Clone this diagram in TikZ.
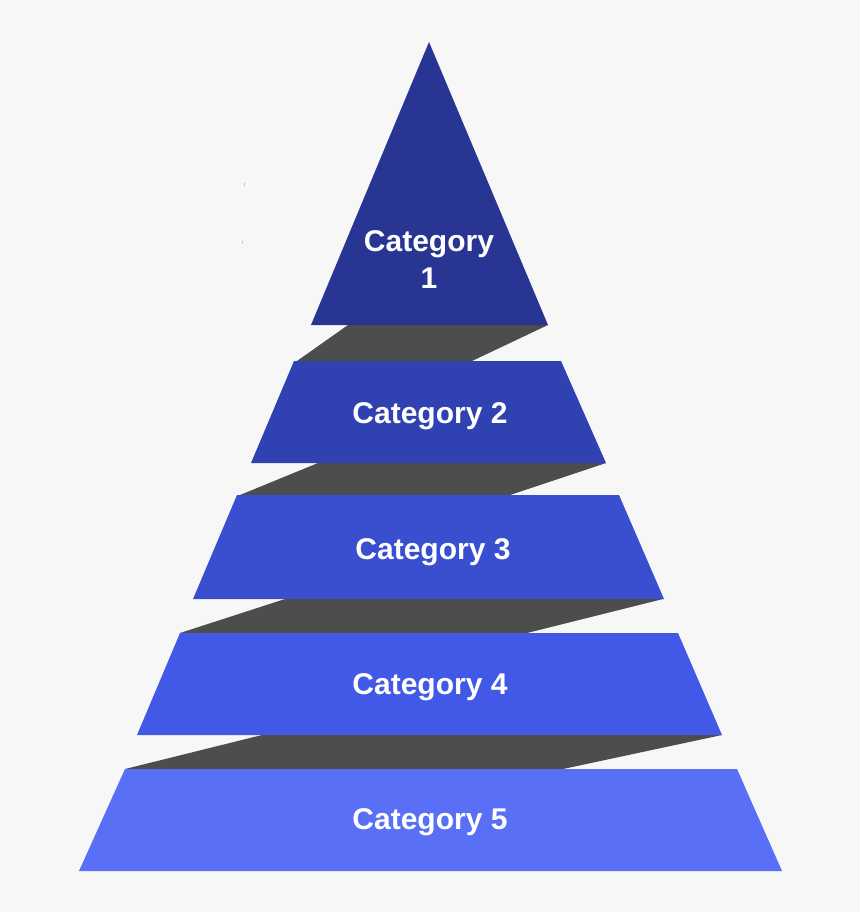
\documentclass[tikz,border=0pt]{standalone}
\usepackage{fontspec}
\setmainfont{Liberation Sans}
\usepackage{xcolor}
\definecolor{bgpaper}{HTML}{F7F7F7}
\definecolor{stepgray}{HTML}{4D4D4D}
\definecolor{catA}{HTML}{283593}
\definecolor{catB}{HTML}{3041B1}
\definecolor{catC}{HTML}{3A4FD0}
\definecolor{catD}{HTML}{4159E6}
\definecolor{catE}{HTML}{586FF6}

\begin{document}
\begin{tikzpicture}[x=1pt, y=-1pt,
    cat/.style={text=white, font=\fontsize{30}{37}\selectfont\bfseries, align=center, inner sep=0pt},
    speck/.style={text=gray, font=\fontsize{5}{5}\selectfont, inner sep=0pt}]
    % paper
    \fill[bgpaper] (0,0) rectangle (860,912);
    \useasboundingbox (0,0) rectangle (860,912);

    % grey steps behind the layers
    \fill[stepgray] (348,325) -- (548,325) -- (472,361) -- (297,361) -- cycle;
    \fill[stepgray] (318,463) -- (606,463) -- (510,495) -- (240,495) -- cycle;
    \fill[stepgray] (285,599) -- (663,599) -- (527,633) -- (180,633) -- cycle;
    \fill[stepgray] (262,735) -- (722,735) -- (563,769) -- (125,769) -- cycle;

    % Category 1
    \fill[catA] (429,42) -- (548,325) -- (311,325) -- cycle;
    \node[cat] (c1) at (429,260) {Category\\1};

    % Category 2
    \fill[catB] (294,361) -- (561,361) -- (606,463) -- (251,463) -- cycle;
    \node[cat] (c2) at (430,416) {Category 2};

    % Category 3
    \fill[catC] (237,495) -- (619,495) -- (664,599) -- (193,599) -- cycle;
    \node[cat] (c3) at (433,552) {Category 3};

    % Category 4
    \fill[catD] (180,633) -- (678,633) -- (722,735) -- (137,735) -- cycle;
    \node[cat] (c4) at (430,687) {Category 4};

    % Category 5
    \fill[catE] (125,769) -- (737,769) -- (782,871) -- (79,871) -- cycle;
    \node[cat] (c5) at (430,822) {Category 5};

    % stray marks on the left
    \node[speck] (m1) at (245,185) {r};
    \node[speck] (m2) at (243,243) {i};
\end{tikzpicture}
\end{document}
